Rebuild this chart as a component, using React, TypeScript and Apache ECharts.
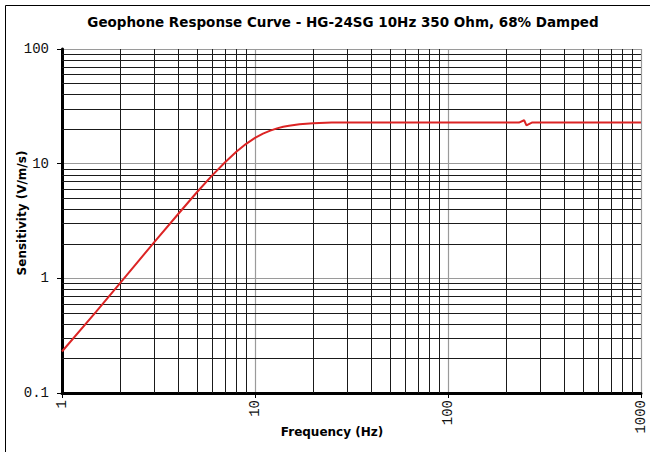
import React, { useEffect, useRef } from "react";
import * as echarts from "echarts";

// Frequency (Hz) and sensitivity (V/m/s)
const frequencies = [1, 1.5, 2, 3, 4, 5, 6, 7, 8, 9, 10, 11, 12, 13, 14, 15, 17, 20, 25, 30, 40, 50, 70, 100, 150, 200, 233, 248, 255, 272, 300, 500, 700, 1000];
const sensitivity = [0.23, 0.51, 0.91, 2.06, 3.64, 5.63, 7.91, 10.3, 12.7, 14.9, 16.8, 18.3, 19.4, 20.3, 21.0, 21.4, 22.1, 22.5, 22.8, 22.85, 22.86, 22.85, 22.83, 22.8, 22.8, 22.8, 22.8, 23.9, 21.6, 22.8, 22.8, 22.8, 22.8, 22.8];

const xTickLabels = ["1", "10", "100", "1000"];
const yTickLabels = ["0.1", "1", "10", "100"];

// minor gridlines (2..9 within each decade)
const xMinorGrid = [2, 3, 4, 5, 6, 7, 8, 9, 20, 30, 40, 50, 60, 70, 80, 90, 200, 300, 400, 500, 600, 700, 800, 900];
const yMinorGrid = [0.2, 0.3, 0.4, 0.5, 0.6, 0.7, 0.8, 0.9, 2, 3, 4, 5, 6, 7, 8, 9, 20, 30, 40, 50, 60, 70, 80, 90];

const titleText = "Geophone Response Curve - HG-24SG 10Hz 350 Ohm, 68% Damped";
const xName = "Frequency (Hz)";
const yName = "Sensitivity (V/m/s)";

const pickLabel = (labels: string[]) => (v: number) => {
  for (const l of labels) {
    const n = Number(l);
    if (Math.abs(Math.log10(v) - Math.log10(n)) < 1e-6) return l;
  }
  return "";
};

export default function App() {
  const ref = useRef<HTMLDivElement>(null);
  useEffect(() => {
    document.body.style.margin = "0";
    const chart = echarts.init(ref.current!, null, { renderer: "svg" });
    const labelFont = "'Liberation Mono', 'Courier New', monospace";
    const nameFont = "'DejaVu Sans', Verdana, sans-serif";
    chart.setOption({
      animation: false,
      backgroundColor: "#fff",
      grid: { left: 62, right: 9, top: 49, bottom: 59, containLabel: false },
      xAxis: {
        type: "log",
        logBase: 10,
        min: 1,
        max: 1000,
        axisLine: { show: true, onZero: false, lineStyle: { color: "#000", width: 3 } },
        axisTick: { show: true, length: 5, lineStyle: { color: "#000", width: 1 } },
        axisLabel: {
          rotate: 90,
          margin: 7,
          fontFamily: labelFont,
          fontSize: 14,
          color: "#111",
          formatter: pickLabel(xTickLabels),
        },
        splitLine: { show: true, lineStyle: { color: "#9a9a9a", width: 1.2 } },
        minorTick: { show: false },
        minorSplitLine: { show: false },
      },
      yAxis: {
        type: "log",
        logBase: 10,
        min: 0.1,
        max: 100,
        axisLine: { show: true, onZero: false, lineStyle: { color: "#000", width: 3 } },
        axisTick: { show: true, length: 5, lineStyle: { color: "#000", width: 1 } },
        axisLabel: {
          margin: 13,
          fontFamily: labelFont,
          fontSize: 14,
          color: "#111",
          formatter: pickLabel(yTickLabels),
        },
        splitLine: { show: true, lineStyle: { color: "#9a9a9a", width: 1.2 } },
        minorTick: { show: false },
        minorSplitLine: { show: false },
      },
      series: [
        {
          type: "line",
          z: 1,
          silent: true,
          data: [[1, 0.1]],
          symbol: "none",
          lineStyle: { opacity: 0 },
          markLine: {
            silent: true,
            symbol: ["none", "none"],
            label: { show: false },
            emphasis: { disabled: true },
            lineStyle: { type: "solid", color: "#1a1a1a", width: 1 },
            data: [
              ...xMinorGrid.map((v) => ({ xAxis: v })),
              ...yMinorGrid.map((v) => ({ yAxis: v })),
            ],
          },
        },
        {
          type: "line",
          z: 5,
          data: frequencies.map((f, i) => [f, sensitivity[i]]),
          symbol: "none",
          smooth: false,
          lineStyle: { color: "#dc2424", width: 2 },
        },
      ],
      graphic: [
        {
          type: "rect",
          silent: true,
          shape: { x: 5.5, y: 5.5, width: 700, height: 500 },
          style: { fill: "none", stroke: "#000", lineWidth: 1 },
          z: 0,
        },
        {
          type: "text",
          x: 343,
          y: 22,
          style: {
            text: titleText,
            font: `bold 13.5px ${nameFont}`,
            fill: "#000",
            align: "center",
            verticalAlign: "middle",
          },
        },
        {
          type: "text",
          x: 332,
          y: 432,
          style: {
            text: xName,
            font: `bold 12px ${nameFont}`,
            fill: "#000",
            align: "center",
            verticalAlign: "middle",
          },
        },
        {
          type: "text",
          x: 22,
          y: 213,
          rotation: Math.PI / 2,
          style: {
            text: yName,
            font: `bold 12px ${nameFont}`,
            fill: "#000",
            align: "center",
            verticalAlign: "middle",
          },
        },
      ],
    });
    return () => chart.dispose();
  }, []);
  return <div ref={ref} style={{ width: 650, height: 452 }} />;
}
